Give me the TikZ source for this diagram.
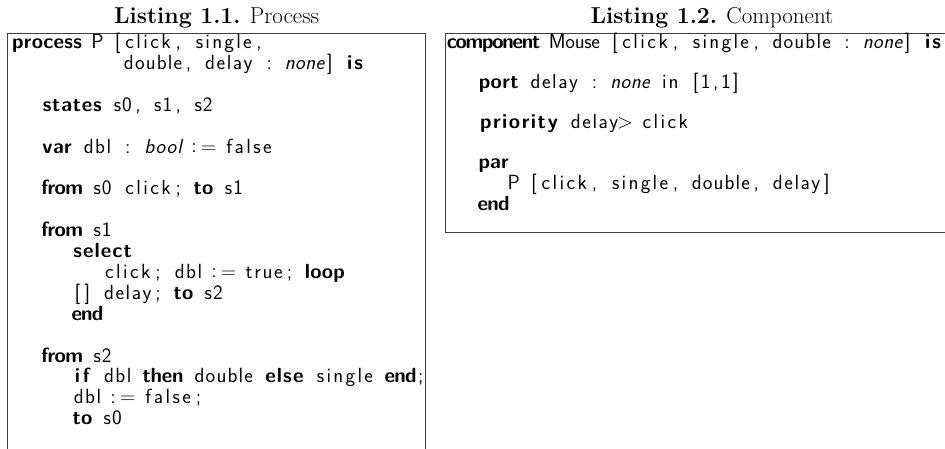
\documentclass[tikz,border=0pt]{standalone}
\makeatletter
\newdimen\cw \cw=10.1pt
\newcount\fx@n
\def\fx@end{fx@end}
\def\kw{kw-marker}\def\ii{ii-marker}\def\two{two-marker}\def\one{one-marker}
\def\fx#1{\begingroup\fx@n=0 \def\fx@buf{}\fx@loop#1\fx@end\endgroup}
\def\fx@loop{\futurelet\fx@next\fx@check}
\def\fx@check{%
  \ifx\fx@next\fx@end \let\fx@do\fx@stop
  \else\ifx\fx@next\@sptoken \let\fx@do\fx@space
  \else\ifx\fx@next\kw \let\fx@do\fx@kw
  \else\ifx\fx@next\ii \let\fx@do\fx@ii
  \else\ifx\fx@next\two \let\fx@do\fx@two
  \else\ifx\fx@next\one \let\fx@do\fx@one
  \else \let\fx@do\fx@char
  \fi\fi\fi\fi\fi\fi
  \fx@do}
\def\fx@flush{\ifnum\fx@n>0 \hbox to \fx@n\cw{\fx@buf\hss}\fi\fx@n=0 \def\fx@buf{}}
\def\fx@add#1{\advance\fx@n 1 \expandafter\def\expandafter\fx@buf\expandafter{\fx@buf\hss#1}}
\def\fx@other#1{\fx@flush\hbox to\cw{\hss#1\hss}}
\def\fx@stop\fx@end{\fx@flush}
\expandafter\def\expandafter\fx@space\space{\fx@flush\hbox to\cw{\hss}\fx@loop}
\def\fx@kw\kw#1{\fx@flush{\bfseries\fx{#1}}\fx@loop}
\def\fx@ii\ii#1{\fx@flush{\itshape\fx{#1}}\fx@loop}
\def\fx@two\two#1{\fx@flush\hbox to 2\cw{\hss#1\hss}\fx@loop}
\def\fx@one\one#1{\fx@flush\hbox to \cw{\hss#1\hss}\fx@loop}
\def\fx@char#1{%
  \ifcat a\noexpand#1\fx@add{#1}%
  \else\ifnum`#1>47 \ifnum`#1<58 \fx@add{#1}\else\fx@other{#1}\fi
  \else\fx@other{#1}\fi\fi
  \fx@loop}
\makeatother
\hbadness=10000 \hfuzz=100pt
\newcommand\codefont{\fontsize{20.5}{21}\selectfont\sffamily}
\newcommand\capfont{\fontsize{23}{25}\selectfont\rmfamily}
\newcommand\asg{\ensuremath{\mathrel{\vcenter{\hbox{:}}\mkern-1.2mu=}}}
\tikzset{
  codeline/.style={anchor=base west, inner sep=0pt, font=\codefont},
  capline/.style={anchor=base, inner sep=0pt, font=\capfont},
  framebox/.style={draw=black!75, line width=0.85pt}
}
\begin{document}
\begin{tikzpicture}[x=1pt,y=-1pt]
\useasboundingbox (0,0) rectangle (945,448);
\clip (0,0) rectangle (945,448);
% captions
\node[capline] (cap1) at (216.5,23) {\textbf{Listing 1.1.} Process};
\node[capline] (cap2) at (712,23) {\textbf{Listing 1.2.} Component};
% frames
\draw[framebox] (7.5,470) -- (7.5,33) -- (425.5,33) -- (425.5,470);
\draw[framebox] (985,33) -- (445.5,33) -- (445.5,232.5) -- (985,232.5);
% left listing (fixed columns, cell 10.1)
\node[codeline] (l1) at (11.5,48.5) {\fx{\kw{process} P [click, single,}};
\node[codeline] (l2) at (122.6,69.6) {\fx{double, delay : \ii{none}] \kw{is}}};
\node[codeline] (l3) at (41.8,111.2) {\fx{\kw{states} s0, s1, s2}};
\node[codeline] (l4) at (41.8,153) {\fx{\kw{var} dbl : \ii{bool} \two{\asg} false}};
\node[codeline] (l5) at (41.8,194.8) {\fx{\kw{from} s0 click; \kw{to} s1}};
\node[codeline] (l6) at (41.8,236.6) {\fx{\kw{from} s1}};
\node[codeline] (l7) at (72.1,257.5) {\fx{\kw{select}}};
\node[codeline] (l8) at (102.4,278.4) {\fx{click; dbl \two{\asg} true; \kw{loop}}};
\node[codeline] (l9) at (72.1,299.3) {\fx{[] delay; \kw{to} s2}};
\node[codeline] (l10) at (72.1,320.2) {\fx{\kw{end}}};
\node[codeline] (l11) at (41.8,362) {\fx{\kw{from} s2}};
\node[codeline] (l12) at (72.1,382.9) {\fx{\kw{if} dbl \kw{then} double \kw{else} single \kw{end};}};
\node[codeline] (l13) at (72.1,403.8) {\fx{dbl \two{\asg} false;}};
\node[codeline] (l14) at (72.1,424.7) {\fx{\kw{to} s0}};
% right listing
\node[codeline] (r1) at (448,48.5) {\fx{\kw{component} Mouse [click, single, double : \ii{none}] \kw{is}}};
\node[codeline] (r2) at (478.3,88.5) {\fx{\kw{port} delay : \ii{none} in [1,1]}};
\node[codeline] (r3) at (478.3,128.5) {\fx{\kw{priority} delay\one{$>$} click}};
\node[codeline] (r4) at (478.3,168.5) {\fx{\kw{par}}};
\node[codeline] (r5) at (508.6,189.5) {\fx{P [click, single, double, delay]}};
\node[codeline] (r6) at (478.3,210.5) {\fx{\kw{end}}};
\end{tikzpicture}
\end{document}
